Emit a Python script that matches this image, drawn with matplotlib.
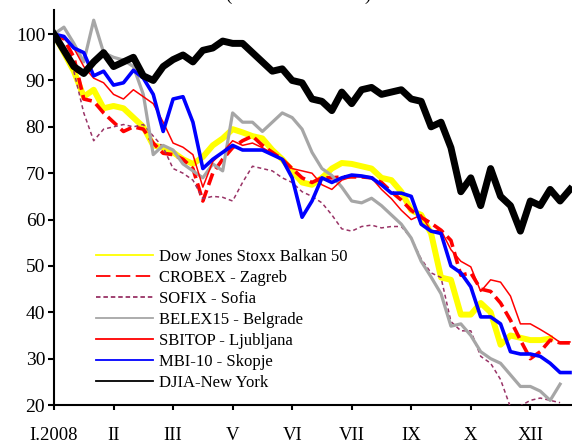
import numpy as np
import matplotlib
matplotlib.use('Agg')
import matplotlib.pyplot as plt
from matplotlib.lines import Line2D

# ------------------------------------------------------------------
# Data (index, 2008 start = 100), read roughly once a week
aWeek = np.arange(53)

aBalkan50 = [100, 96, 92, 86.5, 88, 84, 84.5, 84, 82, 80,
             76, 75.5, 74.5, 73, 72, 73.5, 76, 77.5, 79.5, 78.8,
             78, 77.5, 75, 73, 70.5, 68, 67.5, 69, 71, 72.2,
             72, 71.5, 71, 69, 68.5, 66, 62, 61, 57, 47.5,
             47, 39.5, 39.5, 42, 40, 33, 35, 34.5, 34, 34,
             34.3, np.nan, np.nan]
aCrobex = [100, 99, 95, 86, 85.5, 83, 81, 79, 80, 79.5,
           76.5, 74.3, 74, 73, 71, 64, 70, 73, 75.5, 77,
           78, 76, 74.5, 73, 71, 69, 68, 69, 69, 69.2,
           69.2, 69.2, 69, 68, 66, 64.2, 62, 60.5, 59.2, 57.7,
           55.5, 48, 48.5, 45, 44.5, 42, 38.3, 34, 30, 31.5,
           34, 33.4, 33.4]
aSofix = [100, 97, 92, 83, 77, 79.5, 80, 80.5, 80, 80.5,
          78, 75.6, 71, 70, 68.5, 64.5, 65, 64.8, 64, 68,
          71.5, 71, 70.5, 69, 68, 66, 65, 63.6, 61, 58,
          57.5, 58.5, 58.8, 58.2, 58.5, 58.5, 56, 51.5, 48.5, 47.5,
          38, 36, 36, 30.5, 29, 25.5, 19.5, 19.8, 21, 21.5,
          21, 20.5, np.nan]
aBelex15 = [100, 101.5, 98, 94, 103, 96, 95, 94.4, 93, 87,
            74, 76, 75, 72, 70.5, 69, 72, 70.5, 83, 81,
            81, 79, 81, 83, 82, 79.5, 74.5, 71, 69.5, 67,
            64, 63.6, 64.6, 63, 61, 59, 56, 51, 47.6, 44,
            37, 37.5, 35, 31.5, 30, 29, 26.5, 24, 24, 23,
            21, 24.5, np.nan]
aSbitop = [100, 99, 97, 93, 90.5, 89.5, 87, 86, 88, 86.5,
           85, 81, 76.5, 75.6, 74, 67, 72.5, 74.5, 77, 76,
           76.5, 75.5, 74.3, 73, 71, 70.5, 70, 67.5, 66.5, 68.5,
           69.2, 69.2, 69, 66.5, 64.5, 62, 60, 61, 57.5, 57.7,
           53.5, 51, 49.8, 44.5, 47, 46.5, 43.5, 37.5, 37.5, 36.3,
           35, 33.5, 33.6]
aMbi10 = [100, 99.5, 97, 96, 91, 92, 89, 89.5, 92.2, 90.5,
          87, 79, 86, 86.5, 81, 71, 73, 74.5, 76, 75,
          75, 75, 74, 73, 69, 60.5, 64, 69, 68, 69,
          69.6, 69.4, 69, 67.5, 65.7, 65.7, 65, 59, 57.5, 57,
          50, 48.5, 45.5, 39, 39, 37.5, 31.5, 31, 31, 30.5,
          29, 27, 27]
aDjia = [100, 96.5, 93, 91.5, 94, 96, 93, 94, 95, 91,
         90, 93, 94.5, 95.5, 94, 96.5, 97, 98.5, 98, 98,
         96, 94, 92, 92.5, 90, 89.5, 86, 85.5, 83.5, 87.5,
         85, 88, 88.5, 87, 87.5, 88, 86, 85.5, 80, 81,
         75.5, 66, 69, 63, 71, 65, 63, 57.5, 64, 63,
         66.5, 64, 66.5]

aSeriesName = ['Dow Jones Stoxx Balkan 50', 'CROBEX - Zagreb', 'SOFIX - Sofia',
               'BELEX15 - Belgrade', 'SBITOP - Ljubljana', 'MBI-10 - Skopje',
               'DJIA-New York']
aTickWeek = [0, 6, 12, 18, 24, 30, 36, 42, 48]
aTickLabel = ['I.2008', 'II', 'III', 'V', 'VI', 'VII', 'IX', 'X', 'XII']
aYTick = [20, 30, 40, 50, 60, 70, 80, 90, 100]
sTitle = '(31.12.2007 = 100)'
# ------------------------------------------------------------------

plt.rcParams['font.family'] = ['Liberation Serif', 'DejaVu Serif']

oFig = plt.figure(figsize=(5.72, 4.43), dpi=100)
oAx = oFig.add_axes([54 / 572, 38 / 443, 518 / 572, 395 / 443])

# Series style: colour, width, dashes
aStyle = [('#FFFF00', 4.3, None),
          ('#FF0000', 2.6, (3.4, 1.5)),
          ('#993366', 1.1, (2.6, 2.0)),
          ('#A6A6A6', 2.3, None),
          ('#FF0000', 1.1, None),
          ('#0000FF', 2.6, None),
          ('#000000', 5.0, None)]
aData = [aBalkan50, aCrobex, aSofix, aBelex15, aSbitop, aMbi10, aDjia]

aHandle = []
for iS, a1dVal in enumerate(aData):
    sCol, dLw, oDash = aStyle[iS]
    oLine, = oAx.plot(aWeek, a1dVal, color=sCol, lw=dLw, solid_joinstyle='round',
                      dash_joinstyle='round', zorder=2 + iS)
    if oDash is not None:
        oLine.set_dashes(oDash)
    # Legend proxy (thin line)
    oProxy = Line2D([], [], color=sCol, lw=1.3)
    if iS == 1:
        oProxy.set_dashes((8, 3))
    elif iS == 2:
        oProxy.set_dashes((2.5, 1.6))
    aHandle.append(oProxy)

oAx.set_xlim(0, 52.2)
oAx.set_ylim(20, 105.2)
oAx.set_xticks(aTickWeek)
oAx.set_xticklabels(aTickLabel)
oAx.set_yticks(aYTick)

for sSide in ['top', 'right']:
    oAx.spines[sSide].set_visible(False)
for sSide in ['left', 'bottom']:
    oAx.spines[sSide].set_linewidth(1.5)
oAx.tick_params(axis='y', direction='out', length=4.3, width=1.5, labelsize=14, pad=2)
oAx.tick_params(axis='x', direction='out', length=3.5, width=1.5, labelsize=13.5, pad=12)

oAx.legend(aHandle, aSeriesName, loc='upper left', bbox_to_anchor=(96 / 572, 1 - 249 / 443),
           bbox_transform=oFig.transFigure, frameon=False, fontsize=12, borderpad=0,
           borderaxespad=0, handlelength=3.4, handletextpad=0.4, labelspacing=0.3)

oFig.text(299 / 572, 1.0, sTitle, ha='center', va='baseline', fontsize=13.5)

oFig.savefig('out.png', dpi=100)
